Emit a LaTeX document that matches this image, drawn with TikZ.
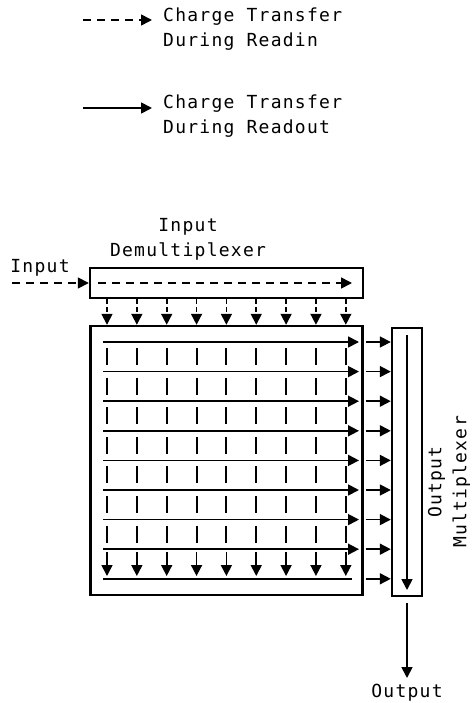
\documentclass[tikz,border=0pt]{standalone}
\usepackage{fontspec}
\setmainfont{DejaVu Sans Mono}[LetterSpace=7]
\usetikzlibrary{arrows.meta}
\tikzset{
  box/.style={draw, line width=2.4pt, inner sep=0pt},
  readin/.style={line width=1.6pt, dash pattern=on 8pt off 6pt, -{Triangle[length=11pt,width=11pt]}},
  readout/.style={line width=1.7pt, -{Triangle[length=11pt,width=11pt]}},
  bar/.style={line width=2pt},
  lbl/.style={font=\fontsize{18}{25}\selectfont, inner sep=0pt}
}

\begin{document}
\begin{tikzpicture}[x=1pt,y=-1pt]
\useasboundingbox (0,0) rectangle (473,703);
\coordinate (rinA) at (83,20);
\coordinate (rinB) at (152,20);
\draw[readin] (rinA) -- (rinB);
\node[lbl, anchor=west, align=left] (rinlbl) at (163,29) {Charge Transfer\\During Readin};
\coordinate (routA) at (83,108);
\coordinate (routB) at (152,108);
\draw[readout] (routA) -- (routB);
\node[lbl, anchor=west, align=left] (routlbl) at (163,116) {Charge Transfer\\During Readout};

\node[box, minimum width=273, minimum height=30] (demux) at (226.5,283) {};
\node[box, minimum width=272, minimum height=269] (array) at (226.5,460.5) {};
\node[box, minimum width=30, minimum height=268] (mux) at (407,462) {};
\node[lbl, align=center] (demuxlbl) at (188,239) {Input\\Demultiplexer};
\node[lbl, rotate=90, align=center] (muxlbl) at (449,482) {Output\\Multiplexer};
\node[lbl] (inlbl) at (40,268) {Input};
\node[lbl] (outlbl) at (407,693) {Output};

\coordinate (instart) at (12,283);
\draw[readin] (instart) -- (demux.west);
\coordinate (dmA) at (98,283);
\coordinate (dmB) at (352,283);
\draw[readin] (dmA) -- (dmB);

\foreach \c in {0,...,8}{
  \coordinate (col\c) at ({107+29.85*\c},0);
  \draw[readin, dash pattern=on 5pt off 3pt] (demux.south -| col\c) -- (array.north -| col\c);
}
\foreach \r in {0,...,8}{
  \coordinate (row\r) at (0,{342+29.6*\r});
  \draw[readout] ([xshift=2pt]array.east |- row\r) -- (mux.west |- row\r);
}
\foreach \r in {0,...,7}
  \draw[readout] (103,{342+29.6*\r}) -- (359,{342+29.6*\r});
\draw[line width=1.7pt] (103,578.8) -- (352,578.8);
\foreach \r in {0,...,6}
  \foreach \c in {0,...,8}
    \draw[bar] ({107+29.85*\c},{348+29.6*\r}) -- ++(0,17);
\foreach \c in {0,...,8}
  \draw[readout] ({107+29.85*\c},552) -- ({107+29.85*\c},576);

\coordinate (muxA) at (407,335);
\coordinate (muxB) at (407,590);
\draw[readout] (muxA) -- (muxB);
\coordinate (outend) at (407,678);
\draw[readout] ([yshift=-6pt]mux.south) -- (outend);
\end{tikzpicture}
\end{document}
